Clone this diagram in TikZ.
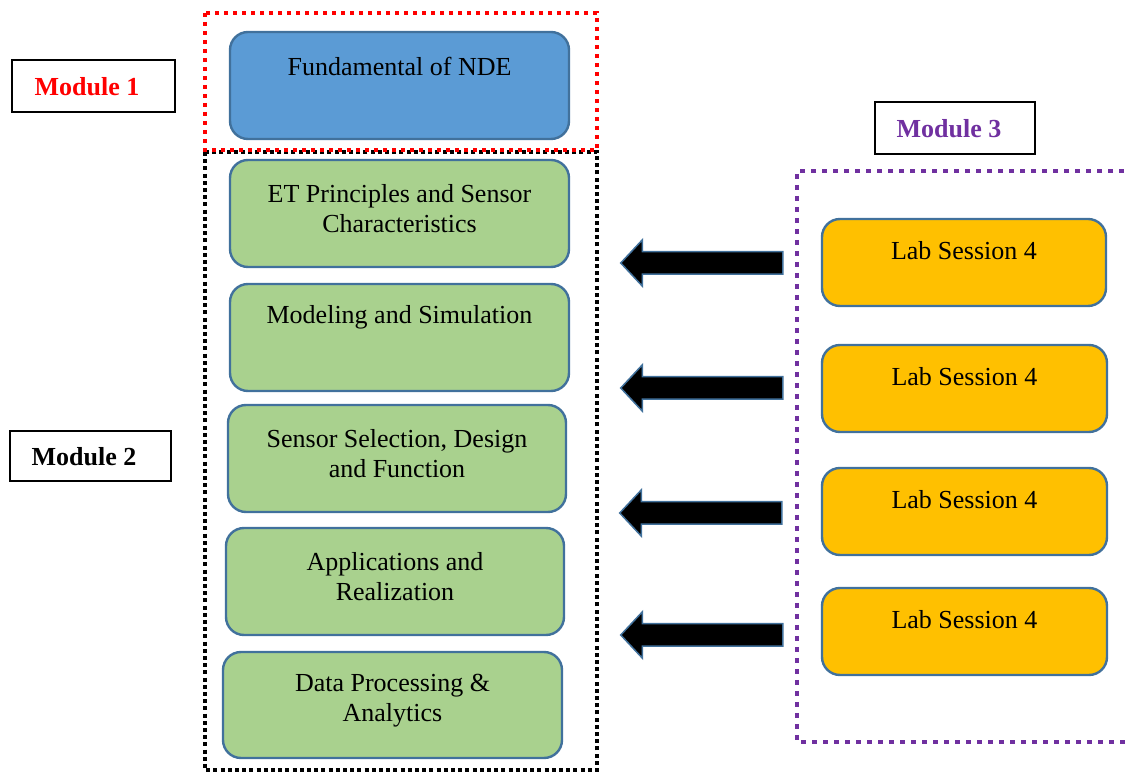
\documentclass[tikz,border=0pt]{standalone}
\usepackage{fontspec}
\setmainfont{Liberation Serif}
\usetikzlibrary{shapes.arrows}
\definecolor{bluefill}{HTML}{5B9BD5}
\definecolor{greenfill}{HTML}{A9D18E}
\definecolor{orangefill}{HTML}{FFC000}
\definecolor{boxborder}{HTML}{41719C}
\definecolor{modred}{HTML}{FF0000}
\definecolor{modpurple}{HTML}{7030A0}
\tikzset{
  rbox/.style={draw=boxborder, line width=1.2pt, rounded corners=9pt, inner sep=0pt},
  bluebox/.style={rbox, fill=bluefill},
  greenbox/.style={rbox, fill=greenfill},
  labbox/.style={rbox, fill=orangefill},
  txt/.style={align=center, inner sep=0pt, font=\fontsize{13}{15}\selectfont},
  modbox/.style={draw=black, line width=1pt, inner sep=0pt},
  modtxt/.style={inner sep=0pt, font=\fontsize{13}{15}\selectfont\bfseries},
  blockarrow/.style={single arrow, shape border rotate=180, fill=black, draw=boxborder,
    line width=0.75pt, inner xsep=0pt, inner ysep=5.25pt, single arrow head extend=6pt,
    single arrow tip angle=94, minimum height=81pt},
  reddots/.style={draw=modred, line width=2pt, dash pattern=on 2pt off 2.5pt},
  blackdots/.style={draw=black, line width=2pt, dash pattern=on 2pt off 1.6pt},
  purpledots/.style={draw=modpurple, line width=2pt, dash pattern=on 2.5pt off 3pt},
}
\begin{document}
\begin{tikzpicture}[x=0.5pt,y=-0.5pt]
\useasboundingbox (0,0) rectangle (1130,774);
% module group frames
\draw[blackdots] (205,152) rectangle (597,770);
\draw[reddots] (205,13) rectangle (597,150);
\draw[purpledots] (1135,171) -- (797,171) -- (797,742) -- (1135,742);
% module labels
\node[modbox, minimum width=81.5pt, minimum height=26pt] (m1) at (93.5,86) {};
\node[modtxt, text=modred] (m1t) at (87,87) {Module 1};
\node[modbox, minimum width=80.5pt, minimum height=25pt] (m2) at (90.5,456) {};
\node[modtxt] (m2t) at (84,457) {Module 2};
\node[modbox, minimum width=80pt, minimum height=26pt] (m3) at (955,128) {};
\node[modtxt, text=modpurple] (m3t) at (949,129) {Module 3};
% module 1 box
\node[bluebox, minimum width=169.5pt, minimum height=53.5pt] (b0) at (399.5,85.5) {};
\node[txt] (b0t) at (399.5,66) {Fundamental of NDE};
% module 2 boxes
\node[greenbox, minimum width=169.5pt, minimum height=53.5pt] (g1) at (399.5,213.5) {};
\node[txt] (g1t) at (399.5,209) {ET Principles and Sensor\\Characteristics};
\node[greenbox, minimum width=169.5pt, minimum height=53.5pt] (g2) at (399.5,337.5) {};
\node[txt] (g2t) at (399.5,317) {Modeling and Simulation};
\node[greenbox, minimum width=169pt, minimum height=53.5pt] (g3) at (397,458.5) {};
\node[txt] (g3t) at (397,453.5) {Sensor Selection, Design\\and Function};
\node[greenbox, minimum width=169pt, minimum height=53.5pt] (g4) at (395,581.5) {};
\node[txt] (g4t) at (395,577) {Applications and\\Realization};
\node[greenbox, minimum width=169.5pt, minimum height=53pt] (g5) at (392.5,705) {};
\node[txt] (g5t) at (392.5,700.5) {Data Processing \&\\Analytics};
% module 3 boxes
\node[labbox, minimum width=142pt, minimum height=43.5pt] (l1) at (964,262.5) {};
\node[txt] (l1t) at (964,251) {Lab Session 4};
\node[labbox, minimum width=142.5pt, minimum height=43.5pt] (l2) at (964.5,388.5) {};
\node[txt] (l2t) at (964.5,377) {Lab Session 4};
\node[labbox, minimum width=142.5pt, minimum height=43.5pt] (l3) at (964.5,511.5) {};
\node[txt] (l3t) at (964.5,500) {Lab Session 4};
\node[labbox, minimum width=142.5pt, minimum height=43.5pt] (l4) at (964.5,631.5) {};
\node[txt] (l4t) at (964.5,620) {Lab Session 4};
% block arrows
\node[blockarrow] (a1) at (707,263) {};
\node[blockarrow] (a2) at (707,388) {};
\node[blockarrow] (a3) at (706,513) {};
\node[blockarrow] (a4) at (707,635) {};
\end{tikzpicture}
\end{document}
